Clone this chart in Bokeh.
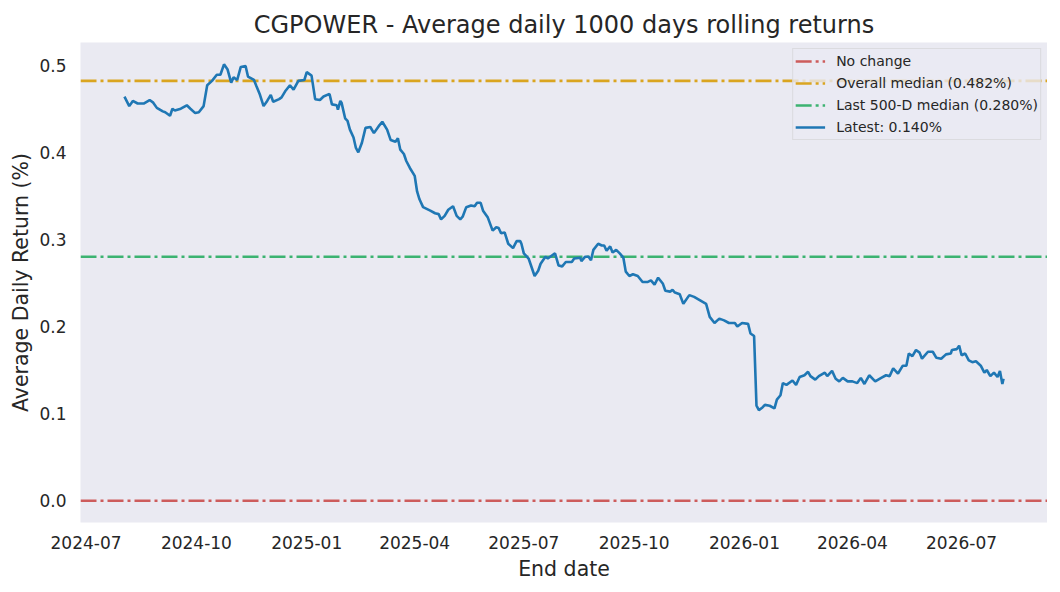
import pandas as pd
from bokeh.plotting import figure
from bokeh.models import (Legend, LegendItem, Range1d, MonthsTicker,
                          DatetimeTickFormatter, FixedTicker, PrintfTickFormatter)
from bokeh.embed import file_html
from bokeh.resources import INLINE

# ---------------- data ----------------
end_dates = [
    "2024-08-02", "2024-08-06", "2024-08-09", "2024-08-13", "2024-08-18", "2024-08-23",
    "2024-08-26", "2024-08-29", "2024-09-03", "2024-09-05", "2024-09-09", "2024-09-11",
    "2024-09-13", "2024-09-18", "2024-09-23", "2024-09-26", "2024-09-30", "2024-10-03",
    "2024-10-07", "2024-10-10", "2024-10-14", "2024-10-18", "2024-10-21", "2024-10-24",
    "2024-10-27", "2024-10-30", "2024-11-01", "2024-11-04", "2024-11-07", "2024-11-11",
    "2024-11-13", "2024-11-18", "2024-11-20", "2024-11-23", "2024-11-26", "2024-11-29",
    "2024-12-02", "2024-12-04", "2024-12-09", "2024-12-11", "2024-12-14", "2024-12-18",
    "2024-12-21", "2024-12-25", "2024-12-30", "2025-01-01", "2025-01-05", "2025-01-08",
    "2025-01-12", "2025-01-15", "2025-01-20", "2025-01-22", "2025-01-26", "2025-01-27",
    "2025-01-29", "2025-01-30", "2025-02-02", "2025-02-04", "2025-02-06", "2025-02-09",
    "2025-02-11", "2025-02-13", "2025-02-16", "2025-02-19", "2025-02-23", "2025-02-26",
    "2025-03-02", "2025-03-05", "2025-03-09", "2025-03-12", "2025-03-16", "2025-03-18",
    "2025-03-20", "2025-03-23", "2025-03-25", "2025-03-28", "2025-04-01", "2025-04-03",
    "2025-04-05", "2025-04-08", "2025-04-14", "2025-04-18", "2025-04-21", "2025-04-23",
    "2025-04-26", "2025-04-29", "2025-05-03", "2025-05-06", "2025-05-09", "2025-05-11",
    "2025-05-14", "2025-05-18", "2025-05-21", "2025-05-23", "2025-05-26", "2025-05-28",
    "2025-06-01", "2025-06-05", "2025-06-08", "2025-06-10", "2025-06-12", "2025-06-15",
    "2025-06-18", "2025-06-22", "2025-06-25", "2025-06-28", "2025-06-29", "2025-07-01",
    "2025-07-05", "2025-07-10", "2025-07-13", "2025-07-15", "2025-07-19", "2025-07-21",
    "2025-07-27", "2025-07-30", "2025-08-02", "2025-08-05", "2025-08-10", "2025-08-12",
    "2025-08-17", "2025-08-18", "2025-08-21", "2025-08-24", "2025-08-26", "2025-08-28",
    "2025-09-01", "2025-09-04", "2025-09-06", "2025-09-08", "2025-09-11", "2025-09-13",
    "2025-09-16", "2025-09-19", "2025-09-22", "2025-09-24", "2025-09-27", "2025-09-30",
    "2025-10-04", "2025-10-08", "2025-10-12", "2025-10-15", "2025-10-18", "2025-10-21",
    "2025-10-25", "2025-10-27", "2025-10-31", "2025-11-02", "2025-11-04", "2025-11-08",
    "2025-11-11", "2025-11-16", "2025-11-20", "2025-11-25", "2025-11-30", "2025-12-03",
    "2025-12-07", "2025-12-11", "2025-12-15", "2025-12-19", "2025-12-24", "2025-12-26",
    "2025-12-30", "2026-01-04", "2026-01-06", "2026-01-09", "2026-01-11", "2026-01-13",
    "2026-01-16", "2026-01-18", "2026-01-22", "2026-01-26", "2026-01-28", "2026-01-31",
    "2026-02-02", "2026-02-05", "2026-02-10", "2026-02-13", "2026-02-16", "2026-02-20",
    "2026-02-23", "2026-02-25", "2026-03-01", "2026-03-04", "2026-03-09", "2026-03-11",
    "2026-03-15", "2026-03-18", "2026-03-21", "2026-03-24", "2026-03-28", "2026-04-01",
    "2026-04-05", "2026-04-08", "2026-04-11", "2026-04-15", "2026-04-20", "2026-04-25",
    "2026-04-29", "2026-05-02", "2026-05-05", "2026-05-09", "2026-05-13", "2026-05-16",
    "2026-05-18", "2026-05-21", "2026-05-24", "2026-05-27", "2026-05-29", "2026-06-03",
    "2026-06-07", "2026-06-10", "2026-06-14", "2026-06-18", "2026-06-22", "2026-06-23",
    "2026-06-27", "2026-06-29", "2026-07-01", "2026-07-04", "2026-07-07", "2026-07-10",
    "2026-07-13", "2026-07-17", "2026-07-20", "2026-07-22", "2026-07-25", "2026-07-28",
    "2026-07-31", "2026-08-02", "2026-08-04", "2026-08-05",
]

avg_returns = [
    0.464, 0.453, 0.459, 0.456, 0.456, 0.460, 0.457, 0.451, 0.447, 0.446, 0.442, 0.450,
    0.448, 0.450, 0.454, 0.450, 0.445, 0.446, 0.453, 0.477, 0.482, 0.489, 0.489, 0.501,
    0.495, 0.480, 0.486, 0.483, 0.498, 0.499, 0.487, 0.483, 0.476, 0.466, 0.453, 0.459,
    0.466, 0.458, 0.461, 0.463, 0.470, 0.477, 0.472, 0.482, 0.483, 0.492, 0.488, 0.461,
    0.460, 0.464, 0.467, 0.455, 0.454, 0.449, 0.459, 0.457, 0.439, 0.436, 0.426, 0.417,
    0.405, 0.400, 0.411, 0.428, 0.429, 0.422, 0.430, 0.435, 0.426, 0.414, 0.412, 0.416,
    0.403, 0.398, 0.390, 0.382, 0.373, 0.355, 0.346, 0.337, 0.333, 0.330, 0.329, 0.323,
    0.327, 0.334, 0.338, 0.327, 0.323, 0.326, 0.337, 0.339, 0.338, 0.342, 0.342, 0.333,
    0.325, 0.310, 0.314, 0.313, 0.307, 0.308, 0.295, 0.290, 0.298, 0.298, 0.295, 0.284,
    0.278, 0.258, 0.264, 0.272, 0.280, 0.278, 0.284, 0.270, 0.269, 0.274, 0.274, 0.278,
    0.279, 0.275, 0.280, 0.280, 0.276, 0.288, 0.295, 0.293, 0.293, 0.287, 0.292, 0.285,
    0.288, 0.284, 0.279, 0.263, 0.258, 0.260, 0.258, 0.251, 0.251, 0.253, 0.248, 0.256,
    0.249, 0.241, 0.240, 0.242, 0.239, 0.237, 0.226, 0.236, 0.234, 0.230, 0.226, 0.211,
    0.204, 0.209, 0.207, 0.204, 0.204, 0.200, 0.204, 0.203, 0.192, 0.189, 0.109, 0.104,
    0.107, 0.110, 0.109, 0.106, 0.116, 0.121, 0.135, 0.133, 0.138, 0.133, 0.142, 0.144,
    0.148, 0.143, 0.139, 0.143, 0.147, 0.143, 0.149, 0.140, 0.137, 0.141, 0.137, 0.137,
    0.135, 0.141, 0.134, 0.144, 0.137, 0.141, 0.144, 0.143, 0.152, 0.146, 0.155, 0.155,
    0.169, 0.166, 0.173, 0.170, 0.163, 0.171, 0.171, 0.164, 0.163, 0.168, 0.169, 0.173,
    0.174, 0.178, 0.167, 0.169, 0.161, 0.159, 0.160, 0.155, 0.147, 0.150, 0.143, 0.147,
    0.142, 0.149, 0.134, 0.140,
]

no_change = 0.0
overall_median = 0.482
last500_median = 0.280

y_ticks = [0.0, 0.1, 0.2, 0.3, 0.4, 0.5]
x_tick_months = [1, 4, 7, 10]

title_text = "CGPOWER - Average daily 1000 days rolling returns"
x_label = "End date"
y_label = "Average Daily Return (%)"

# ---------------- styling ----------------
FONT = "DejaVu Sans"
TXT = "#262626"
BLUE = "#1f77b4"
RED = "#CD5C5C"
GOLD = "#DAA520"
GREEN = "#3CB371"
DASHDOT = "16 4 3 4"
LW = 2.6

dates = pd.to_datetime(end_dates)
latest = avg_returns[-1]

dmin, dmax = dates.min(), dates.max()
xpad = (dmax - dmin) * 0.05
x0, x1 = dmin - xpad, dmax + xpad
ylo = min(min(avg_returns), no_change)
yhi = max(max(avg_returns), overall_median)
ypad = (yhi - ylo) * 0.05

p = figure(
    x_axis_type="datetime",
    frame_width=967, frame_height=480,
    x_range=Range1d(x0, x1),
    y_range=Range1d(ylo - ypad, yhi + ypad),
    output_backend="svg", toolbar_location=None,
    min_border_left=80, min_border_right=0, min_border_top=42, min_border_bottom=54,
    background_fill_color="#EAEAF2", border_fill_color="white",
)
p.outline_line_color = None
p.xgrid.visible = False
p.ygrid.visible = False

p.title.text = title_text
p.title.text_font = FONT
p.title.text_font_size = "24px"
p.title.text_font_style = "normal"
p.title.text_color = TXT
p.title.align = "center"
p.title.standoff = 8

for ax in (p.xaxis[0], p.yaxis[0]):
    ax.axis_line_color = None
    ax.major_tick_line_color = None
    ax.minor_tick_line_color = None
    ax.major_tick_out = 0
    ax.major_tick_in = 0
    ax.minor_tick_out = 0
    ax.minor_tick_in = 0
    ax.major_label_text_font = FONT
    ax.major_label_text_font_size = "17px"
    ax.major_label_text_color = TXT
    ax.axis_label_text_font = FONT
    ax.axis_label_text_font_size = "20.5px"
    ax.axis_label_text_font_style = "normal"
    ax.axis_label_text_color = TXT

p.xaxis.axis_label = x_label
p.yaxis.axis_label = y_label
# Bokeh's MonthsTicker counts months from 0
p.xaxis.ticker = MonthsTicker(months=[m - 1 for m in x_tick_months])
p.xaxis.formatter = DatetimeTickFormatter(months="%Y-%m", days="%Y-%m", years="%Y-%m")
p.xaxis.major_label_standoff = 13
p.xaxis.axis_label_standoff = 5
p.yaxis.ticker = FixedTicker(ticks=y_ticks)
p.yaxis.formatter = PrintfTickFormatter(format="%.1f")
p.yaxis.major_label_standoff = 14
p.yaxis.axis_label_standoff = 3

# reference lines across the full x range (under the data line)
r_nc = p.line(x=[x0, x1], y=[no_change, no_change], line_color=RED,
              line_width=LW, line_dash=DASHDOT)
r_om = p.line(x=[x0, x1], y=[overall_median, overall_median], line_color=GOLD,
              line_width=LW, line_dash=DASHDOT)
r_lm = p.line(x=[x0, x1], y=[last500_median, last500_median], line_color=GREEN,
              line_width=LW, line_dash=DASHDOT)

r_main = p.line(x=dates, y=avg_returns, line_color=BLUE, line_width=LW)

legend = Legend(
    items=[
        LegendItem(label="No change", renderers=[r_nc]),
        LegendItem(label=f"Overall median ({overall_median:.3f}%)", renderers=[r_om]),
        LegendItem(label=f"Last 500-D median ({last500_median:.3f}%)", renderers=[r_lm]),
        LegendItem(label=f"Latest: {latest:.3f}%", renderers=[r_main]),
    ],
    location="top_right",
    margin=6,
    padding=2,
    spacing=2,
    glyph_width=30,
    glyph_height=20,
    label_height=20,
    label_standoff=11,
    label_text_font=FONT,
    label_text_font_size="14px",
    label_text_color=TXT,
    background_fill_color="#EAEAF2",
    background_fill_alpha=0.8,
    border_line_color="#CCCCCC",
    border_line_width=1,
)
p.add_layout(legend)

open("out.html", "w").write(file_html(p, INLINE))
